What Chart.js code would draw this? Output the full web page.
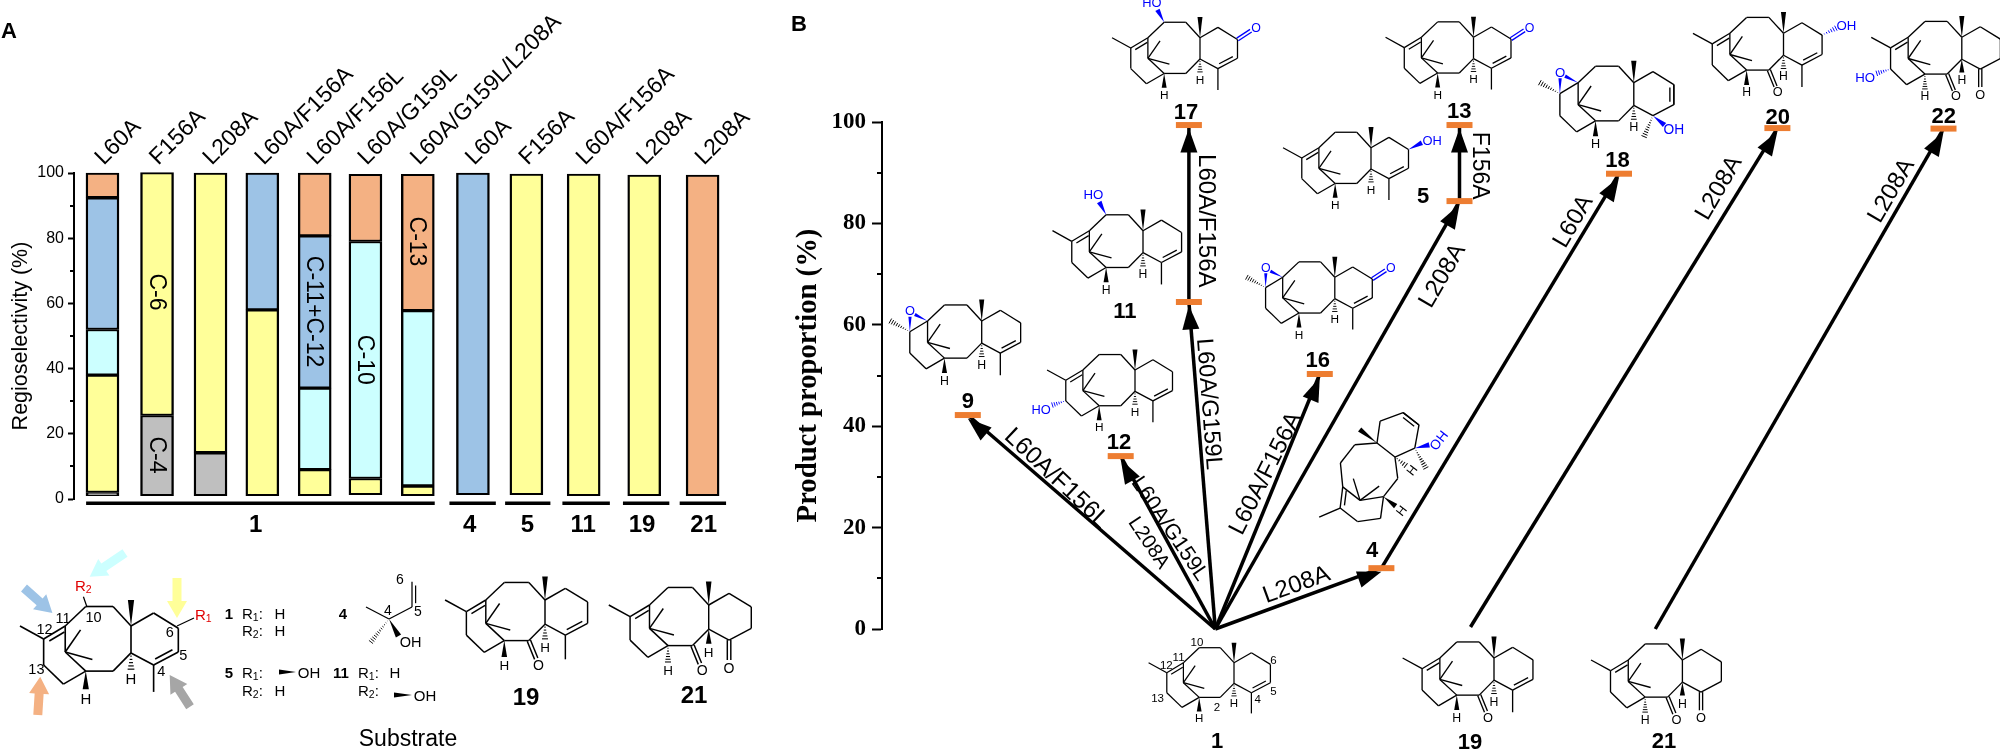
<!DOCTYPE html>
<html>
<head>
<meta charset="utf-8">
<title>Regioselectivity and product proportion</title>
<script src="https://cdn.jsdelivr.net/npm/chart.js@4"></script>
<style>
    html, body { margin: 0; padding: 0; background: #fff; }
    #page { position: relative; width: 2000px; height: 750px; overflow: hidden; }
    canvas, svg { position: absolute; top: 0; }
    #chartA { left: 0; }
    #chartB { left: 780px; }
    #art { left: 0; }
</style>
</head>
<body>
<div id="page">
    <canvas id="chartA" width="760" height="750"></canvas>
    <canvas id="chartB" width="1220" height="750"></canvas>
    <svg id="art" width="2000" height="750" viewBox="0 0 2000 750"></svg>
</div>
<script>
// panel A
const mutants = ['L60A', 'F156A', 'L208A', 'L60A/F156A', 'L60A/F156L', 'L60A/G159L', 'L60A/G159L/L208A', 'L60A', 'F156A', 'L60A/F156A', 'L208A', 'L208A'];
const barSlots = [1, 2, 2.98, 3.93, 4.89, 5.82, 6.78, 7.79, 8.77, 9.82, 10.93, 12];
const barFloor = [1, 1, 1, 1, 1, 1.3, 1, 1.3, 1.3, 1, 1, 1];
const siteC4 = [1, 24.6, 13.2, null, null, null, null, null, null, null, null, null];
const siteC6 = [36, 74.5, 85.8, 57, 8, 5, 3, null, 98.4, 98.7, 98.4, null];
const siteC10 = [14, null, null, null, 25, 72.7, 53.8, null, null, null, null, null];
const siteC11C12 = [40.4, null, null, 42, 46.7, null, null, 98.7, null, null, null, null];
const siteC13 = [7.6, null, null, null, 19.3, 20.6, 41.8, null, null, null, null, 98.4];
const percentTicks = [0, 20, 40, 60, 80, 100];
const percentMinorTicks = [10, 30, 50, 70, 90];
const substrates = ['1', '4', '5', '11', '19', '21'];
const substrateFrom = [0.7, 7.36, 8.38, 9.43, 10.54, 11.58];
const substrateTo = [7.09, 8.21, 9.21, 10.3, 11.39, 12.43];
const substrateMid = [3.81, 7.73, 8.79, 9.81, 10.89, 12.02];
const siteNames = ['C-6', 'C-4', 'C-11+C-12', 'C-10', 'C-13'];
const siteNameBar = [1, 1, 4, 5, 6];
const siteNameLevel = [63.5, 13.5, 57.5, 42.7, 79];

// panel B
const productNames = ['9', '12', '4', '11', '17', '16', '5', '13', '18', '20', '22'];
const productX = [7.8, 21.7, 45.4, 27.9, 27.9, 39.8, 52.5, 52.5, 67, 81.4, 96.5];
const proportion = [42.2, 34.1, 12, 64.5, 99.4, 50.3, 84.4, 99.4, 89.8, 98.8, 98.7];
const startNames = ['1', '19', '21'];
const startX = [30.3, 53.5, 70.3];
const startProportion = [0, 0.4, 0];
const arrowFrom = ['1', '1', '1', '1', '11', '1', '1', '5', '4', '19', '21'];
const arrowTo = ['9', '12', '4', '11', '17', '16', '5', '13', '18', '20', '22'];
const proportionTicks = [0, 20, 40, 60, 80, 100];
const proportionMinorTicks = [10, 30, 50, 70, 90];

const sans = "'Liberation Sans', Arial, sans-serif";
const serif = "'Liberation Serif', 'Times New Roman', serif";

function minorTickPlugin(values, len) {
    return {
        id: 'minorTicks',
        afterDraw(chart) {
            const y = chart.scales.y, c = chart.ctx;
            c.save();
            c.strokeStyle = '#000';
            c.lineWidth = 2;
            values.forEach(v => {
                const p = Math.round(y.getPixelForValue(v));
                c.beginPath();
                c.moveTo(y.right, p);
                c.lineTo(y.right - len, p);
                c.stroke();
            });
            c.restore();
        }
    };
}

const substratePlugin = {
    id: 'substrates',
    afterDraw(chart) {
        const x = chart.scales.x, y = chart.scales.y, c = chart.ctx;
        c.save();
        c.strokeStyle = '#000';
        c.lineWidth = 3.5;
        c.fillStyle = '#000';
        c.textAlign = 'center';
        c.textBaseline = 'middle';
        substrates.forEach((name, i) => {
            c.beginPath();
            c.moveTo(x.getPixelForValue(substrateFrom[i]), y.getPixelForValue(-1.3));
            c.lineTo(x.getPixelForValue(substrateTo[i]), y.getPixelForValue(-1.3));
            c.stroke();
            c.font = 'bold 24px ' + sans;
            c.fillText(name, x.getPixelForValue(substrateMid[i]), y.getPixelForValue(-8));
        });
        // site names run down inside the bars
        c.font = '23px ' + sans;
        siteNames.forEach((name, i) => {
            c.save();
            c.translate(x.getPixelForValue(barSlots[siteNameBar[i]]), y.getPixelForValue(siteNameLevel[i]));
            c.rotate(Math.PI / 2);
            c.fillText(name, 0, 1);
            c.restore();
        });
        c.restore();
    }
};

function segment(label, data, color) {
    return {
        label, data,
        backgroundColor: color,
        borderColor: '#000',
        borderWidth: { top: 2, bottom: 2, left: 2.4, right: 2.4 },
        borderSkipped: false,
        clip: false
    };
}

new Chart(document.getElementById('chartA'), {
    type: 'bar',
    data: {
        labels: barSlots,
        datasets: [
            { label: 'floor', data: barFloor, backgroundColor: 'rgba(0,0,0,0)', borderWidth: 0 },
            segment('C-4', siteC4, '#BFBFBF'),
            segment('C-6', siteC6, '#FFFF99'),
            segment('C-10', siteC10, '#CCFFFF'),
            segment('C-11+C-12', siteC11C12, '#9DC3E6'),
            segment('C-13', siteC13, '#F4B183')
        ]
    },
    options: {
        responsive: false,
        animation: false,
        barThickness: 33,
        layout: { autoPadding: false, padding: { bottom: 251 } },
        plugins: { legend: { display: false }, tooltip: { enabled: false } },
        scales: {
            x: {
                type: 'linear',
                position: 'top',
                stacked: true,
                offset: false,
                min: 0.478,
                max: 12.906,
                grid: { display: false, offset: false },
                border: { display: false },
                // the rotated names start a little right of each bar centre
                afterBuildTicks: s => { s.ticks = barSlots.map(v => ({ value: v + 0.3 })); },
                afterFit: s => { s.height = 173; },
                ticks: {
                    autoSkip: false,
                    minRotation: 45,
                    maxRotation: 45,
                    padding: -6,
                    color: '#000',
                    font: { family: sans, size: 23 },
                    callback: (v, i) => mutants[i]
                }
            },
            y: {
                stacked: true,
                min: 0,
                max: 100,
                afterBuildTicks: s => { s.ticks = percentTicks.map(value => ({ value })); },
                afterFit: s => { s.width = 74; },
                border: { color: '#000', width: 2 },
                grid: { drawOnChartArea: false, color: '#000', tickLength: 6, tickWidth: 2 },
                ticks: { padding: 4, color: '#000', font: { family: sans, size: 16 } },
                title: {
                    display: true,
                    text: 'Regioselectivity (%)',
                    color: '#000',
                    font: { family: sans, size: 21.5 },
                    padding: { top: 8, bottom: 0 }
                }
            }
        }
    },
    plugins: [minorTickPlugin(percentMinorTicks, 4), substratePlugin]
});

function pointFor(name) {
    let i = productNames.indexOf(name);
    if (i >= 0) return { x: productX[i], y: proportion[i] };
    i = startNames.indexOf(name);
    return { x: startX[i], y: startProportion[i] };
}

const arrowHeadPlugin = {
    id: 'arrowHeads',
    afterDatasetsDraw(chart) {
        const x = chart.scales.x, y = chart.scales.y, c = chart.ctx;
        c.save();
        c.fillStyle = '#000';
        arrowTo.forEach((to, i) => {
            const a = pointFor(arrowFrom[i]), b = pointFor(to);
            const ax = x.getPixelForValue(a.x), ay = y.getPixelForValue(a.y);
            const bx = x.getPixelForValue(b.x), by = y.getPixelForValue(b.y) + 3.5;
            const ang = Math.atan2(by - ay, bx - ax);
            c.save();
            c.translate(bx, by);
            c.rotate(ang);
            c.beginPath();
            c.moveTo(0, 0);
            c.lineTo(-24, -8.5);
            c.lineTo(-24, 8.5);
            c.closePath();
            c.fill();
            c.restore();
        });
        c.restore();
    }
};

const arrowSets = arrowTo.map((to, i) => ({
    type: 'line',
    data: [pointFor(arrowFrom[i]), pointFor(to)],
    borderColor: '#000',
    borderWidth: 3.5,
    pointRadius: 0,
    clip: false,
    order: 2
}));

new Chart(document.getElementById('chartB'), {
    type: 'scatter',
    data: {
        datasets: arrowSets.concat([{
            label: 'products',
            data: productNames.map((n, i) => ({ x: productX[i], y: proportion[i] })),
            pointStyle: 'line',
            pointRadius: 13,
            pointBorderWidth: 6,
            pointBorderColor: '#ED7D31',
            borderColor: '#ED7D31',
            clip: false,
            order: 1
        }])
    },
    options: {
        responsive: false,
        animation: false,
        layout: { autoPadding: false, padding: { top: 122, bottom: 121, right: 18 } },
        plugins: { legend: { display: false }, tooltip: { enabled: false } },
        scales: {
            x: { type: 'linear', display: false, min: 0, max: 100 },
            y: {
                min: 0,
                max: 100,
                afterBuildTicks: s => { s.ticks = proportionTicks.map(value => ({ value })); },
                afterFit: s => { s.width = 102; },
                border: { color: '#000', width: 2 },
                grid: { drawOnChartArea: false, color: '#000', tickLength: 10, tickWidth: 2 },
                ticks: { padding: 6, color: '#000', font: { family: serif, size: 23, weight: 'bold' } },
                title: {
                    display: true,
                    text: 'Product proportion (%)',
                    color: '#000',
                    font: { family: serif, size: 28.7, weight: 'bold' },
                    padding: { top: 11, bottom: 0 }
                }
            }
        }
    },
    plugins: [minorTickPlugin(proportionMinorTicks, 5), arrowHeadPlugin]
});

// structures and annotations
const NS = 'http://www.w3.org/2000/svg';
const art = document.getElementById('art');
const BLUE = '#0000FF';

function el(parent, tag, attrs, text) {
    const e = document.createElementNS(NS, tag);
    for (const k in attrs) e.setAttribute(k, attrs[k]);
    if (text !== undefined) e.textContent = text;
    parent.appendChild(e);
    return e;
}

function label(parent, x, y, str, size, opts = {}) {
    const attrs = {
        x, y,
        'font-family': sans,
        'font-size': size,
        'text-anchor': opts.anchor || 'middle',
        'dominant-baseline': 'central',
        fill: opts.color || '#000'
    };
    if (opts.bold) attrs['font-weight'] = 'bold';
    if (opts.angle !== undefined) attrs.transform = `rotate(${opts.angle} ${x} ${y})`;
    return el(parent, 'text', attrs, str);
}

function line(g, p, q, color = '#000', w = 1.25) {
    el(g, 'line', { x1: p[0], y1: p[1], x2: q[0], y2: q[1], stroke: color, 'stroke-width': w });
}

function wedge(g, p, q, color = '#000', wide = 2.4) {
    const dx = q[0] - p[0], dy = q[1] - p[1], l = Math.hypot(dx, dy);
    const nx = -dy / l * wide, ny = dx / l * wide;
    el(g, 'polygon', { points: `${p[0]},${p[1]} ${q[0] + nx},${q[1] + ny} ${q[0] - nx},${q[1] - ny}`, fill: color });
}

function hash(g, p, q, color = '#000', wide = 2.6) {
    const dx = q[0] - p[0], dy = q[1] - p[1], l = Math.hypot(dx, dy);
    const n = Math.max(4, Math.round(l / 2.4));
    for (let i = 1; i <= n; i++) {
        const t = i / n, w = wide * t;
        const cx = p[0] + dx * t, cy = p[1] + dy * t;
        line(g, [cx - dy / l * w, cy + dx / l * w], [cx + dy / l * w, cy - dx / l * w], color, 0.9);
    }
}

function dbl(g, p, q, toward, color = '#000') {
    line(g, p, q, color);
    const dx = q[0] - p[0], dy = q[1] - p[1], l = Math.hypot(dx, dy);
    let nx = -dy / l, ny = dx / l;
    const mx = (p[0] + q[0]) / 2, my = (p[1] + q[1]) / 2;
    if ((toward[0] - mx) * nx + (toward[1] - my) * ny < 0) { nx = -nx; ny = -ny; }
    const a = [p[0] + dx * 0.15 + nx * 3.6, p[1] + dy * 0.15 + ny * 3.6];
    const b = [q[0] - dx * 0.15 + nx * 3.6, q[1] - dy * 0.15 + ny * 3.6];
    line(g, a, b, color);
}

function carbonyl(g, p, q, color) {
    const dx = q[0] - p[0], dy = q[1] - p[1], l = Math.hypot(dx, dy);
    const nx = -dy / l * 1.5, ny = dx / l * 1.5;
    line(g, [p[0] + nx, p[1] + ny], [q[0] + nx, q[1] + ny], color);
    line(g, [p[0] - nx, p[1] - ny], [q[0] - nx, q[1] - ny], color);
}

// taxane skeleton, atoms relative to the methyl bearing ring carbon
const A = {
    a: [-34.8, -15], b: [-13.8, -15], c: [0, 0], cMe: [0, -20], d: [17.4, -10], e: [36.4, 1.7], f: [36.4, 20],
    g: [17.4, 30], gMe: [17.4, 50.7], h: [0, 20.7], i: [-13.8, 34.7], j: [-34.8, 34.7], k: [-50.6, 20], l: [-50.6, 0],
    m: [-67.2, 10], mMe: [-85.4, 0], n: [-67.2, 30], o: [-52, 44.7], me1: [-38.8, 3], me2: [-29.7, 25.7]
};
const plainBonds = ['a-b', 'b-c', 'c-d', 'd-e', 'e-f', 'g-h', 'h-c', 'h-i', 'i-j', 'j-k', 'k-l', 'l-a', 'm-n', 'n-o', 'o-j', 'k-me1', 'k-me2'];

function mol(x, y, s, o = {}) {
    const g = el(art, 'g', { transform: `translate(${x} ${y}) rotate(${o.rot || 0}) scale(${s})` });
    const at = (n, dx, dy) => [A[n][0] + dx, A[n][1] + dy];
    plainBonds.forEach(b => {
        const [p, q] = b.split('-');
        line(g, A[p], A[q]);
    });
    wedge(g, A.c, A.cMe);
    // C-11/C-12
    if (o.epoxide) {
        line(g, A.l, A.m);
        hash(g, A.m, A.mMe);
        label(g, -67, -9.5, 'O', 12, { color: BLUE });
        wedge(g, A.l, [-62.5, -6], BLUE, 1.6);
        wedge(g, A.m, [-67, -4], BLUE, 1.5);
    } else {
        dbl(g, A.l, A.m, [-50, 18]);
        line(g, A.m, A.mMe);
    }
    // C-4/C-5/C-6
    if (o.ketoneG) {
        line(g, A.f, A.g);
        carbonyl(g, A.g, at('g', 0, 17));
        label(g, A.g[0], A.g[1] + 23.5, 'O', 12);
    } else if (o.tertOH) {
        line(g, A.f, A.g);
        hash(g, A.g, at('g', -8, 19));
        wedge(g, A.g, at('g', 10.5, 8.5), BLUE);
        label(g, A.g[0] + 19, A.g[1] + 13, 'OH', 12.5, { color: BLUE });
    } else {
        dbl(g, A.f, A.g, [18, 10]);
        line(g, A.g, A.gMe);
    }
    if (o.ketoneE) {
        carbonyl(g, A.e, at('e', 13, -8.5), BLUE);
        label(g, A.e[0] + 18, A.e[1] - 11, 'O', 12, { color: BLUE });
    }
    if (o.ene56) {
        // e=f double bond, redrawn on top of the plain one
        dbl(g, A.e, A.f, [18, 10]);
    }
    if (o.ketoneI) {
        carbonyl(g, A.i, at('i', 6.3, 15.5));
        label(g, A.i[0] + 8.2, A.i[1] + 20.5, 'O', 12);
    }
    if (o.wedgeOH6) {
        wedge(g, A.e, at('e', 13, -6.5), BLUE);
        label(g, A.e[0] + 23, A.e[1] - 9, 'OH', 12.5, { color: BLUE });
    }
    if (o.hashOH6) {
        hash(g, A.e, at('e', 13, -6.5), BLUE);
        label(g, A.e[0] + 23, A.e[1] - 9, 'OH', 12.5, { color: BLUE });
    }
    if (o.wedgeOH10) {
        wedge(g, A.a, at('a', -6.5, -12), BLUE);
        label(g, A.a[0] - 12, A.a[1] - 19, 'HO', 12.5, { color: BLUE });
    }
    if (o.hashOH13) {
        hash(g, A.n, at('n', -13, 4), BLUE);
        label(g, A.n[0] - 24, A.n[1] + 8, 'HO', 12.5, { color: BLUE });
    }
    // ring fusion hydrogens
    const jStyle = o.jHash ? hash : wedge;
    const hStyle = o.hWedge ? wedge : hash;
    jStyle(g, A.j, at('j', 0, 14));
    label(g, A.j[0], A.j[1] + 21, 'H', 11.5);
    hStyle(g, A.h, at('h', 0, 12.5));
    label(g, 0, A.h[1] + 20, 'H', 11.5);
    return g;
}

// panel A structures
mol(131, 626, 1.3);
mol(545, 600, 1.17, { ketoneI: true });
mol(708.7, 605, 1.17, { ketoneI: true, ketoneG: true, jHash: true, hWedge: true });
line(art, [177, 626], [194, 618]);
line(art, [87, 607], [83.4, 596.7]);

function blockArrow(x1, y1, x2, y2, color) {
    const g = el(art, 'g', { transform: `translate(${x2} ${y2}) rotate(${Math.atan2(y2 - y1, x2 - x1) * 180 / Math.PI})` });
    const l = Math.hypot(x2 - x1, y2 - y1);
    el(g, 'polygon', { points: `0,0 -17,-10 -17,-4.5 ${-l},-4.5 ${-l},4.5 -17,4.5 -17,10`, fill: color });
}
blockArrow(125, 553, 89.7, 576.7, '#CCFFFF');
blockArrow(24, 588, 52.4, 613, '#9DC3E6');
blockArrow(177, 578, 177, 618, '#FFFF99');
blockArrow(190, 706.7, 169.7, 675, '#A6A6A6');
blockArrow(37.8, 715, 40.2, 676.7, '#F4B183');

[['11', 63, 618], ['10', 93.5, 617], ['12', 44.6, 629], ['13', 36.4, 669], ['4', 161.4, 671], ['5', 183.2, 655], ['6', 169.7, 632]].forEach(t => label(art, t[1], t[2], t[0], 14.5));

function rLabel(x, y, n, color, colon) {
    const t = el(art, 'text', { x, y, 'font-family': sans, 'font-size': 15, fill: color, 'dominant-baseline': 'central' }, 'R');
    el(t, 'tspan', { 'font-size': 10.5, dy: 4 }, n);
    if (colon) el(t, 'tspan', { dy: -4 }, ':');
}
rLabel(195, 614, '1', '#E00000');
rLabel(75, 585, '2', '#E00000');

// substituent table
rLabel(242, 613, '1', '#000', true);
rLabel(242, 630, '2', '#000', true);
rLabel(242, 672, '1', '#000', true);
rLabel(242, 690, '2', '#000', true);
rLabel(358, 672, '1', '#000', true);
rLabel(358, 690, '2', '#000', true);
[['1', 229, 613], ['5', 229, 672], ['11', 341, 672], ['4', 343, 613]].forEach(t => label(art, t[1], t[2], t[0], 15, { bold: true }));
[['H', 280, 613], ['H', 280, 630], ['H', 280, 690], ['H', 395, 672]].forEach(t => label(art, t[1], t[2], t[0], 15));
wedge(art, [296, 672], [279, 672], '#000', 2.6);
label(art, 309, 672, 'OH', 15);
wedge(art, [412, 695], [394, 695], '#000', 2.6);
label(art, 425, 695, 'OH', 15);

// small fragment 4
line(art, [389, 619], [366, 607]);
line(art, [389, 619], [412, 607]);
dbl(art, [412, 607], [412, 581.7], [418, 595]);
hash(art, [389, 619], [371, 642]);
wedge(art, [389, 619], [398.5, 636], '#000', 3);
label(art, 410.6, 642, 'OH', 14.5);
label(art, 400, 579, '6', 14);
label(art, 418, 610.7, '5', 14);
label(art, 388, 610, '4', 14);

label(art, 526, 696, '19', 24, { bold: true });
label(art, 694, 694, '21', 24, { bold: true });
label(art, 408, 738, 'Substrate', 23);
label(art, 9, 30, 'A', 22, { bold: true });
label(art, 799, 23, 'B', 22, { bold: true });

// panel B structures
mol(1234, 662.7, 1);
[['10', 1197, 642.3], ['11', 1178.6, 656.7], ['12', 1166.3, 665], ['13', 1157.6, 698.3], ['2', 1217, 707.3], ['4', 1257.7, 699.3], ['5', 1273.5, 691], ['6', 1273.5, 660]].forEach(t => label(art, t[1], t[2], t[0], 11.5));
mol(981.7, 321, 1.07, { epoxide: true });
mol(1143, 230.7, 1.06, { wedgeOH10: true });
mol(1200, 37.7, 1.03, { wedgeOH10: true, ketoneE: true });
mol(1135, 370, 1.03, { hashOH13: true });
mol(1334.8, 277.3, 1.03, { epoxide: true, ketoneE: true });
mol(1371, 147.7, 1.03, { wedgeOH6: true });
mol(1473.5, 37.3, 1.03, { ketoneE: true });
mol(1633.8, 82.7, 1.1, { epoxide: true, ene56: true, tertOH: true });
mol(1783.5, 33.3, 1.06, { hashOH6: true, ketoneI: true });
mol(1961.8, 37.3, 1.06, { hashOH13: true, ketoneI: true, ketoneG: true, jHash: true, hWedge: true });
mol(1377, 443, 1.1, { rot: -52, ene56: true, tertOH: true });
mol(1494, 658, 1.07, { ketoneI: true });
mol(1682.4, 660, 1.07, { ketoneI: true, ketoneG: true, jHash: true, hWedge: true });

// compound numbers in panel B
[['17', 1186, 111], ['11', 1124.8, 310], ['9', 967.8, 400], ['12', 1119, 441], ['4', 1372, 549], ['16', 1317.8, 359.3], ['5', 1423, 195], ['13', 1459.3, 110],
 ['18', 1617.4, 159.3], ['20', 1777.7, 116], ['22', 1943.8, 115.3], ['1', 1217, 740.7], ['19', 1470, 741.7], ['21', 1664, 740.7]].forEach(t => label(art, t[1], t[2], t[0], 22, { bold: true }));

// arrow captions
[['L60A/F156A', 1207, 220.8, 90, 24], ['L60A/G159L', 1210, 404, 85.7, 23.5], ['L60A/F156L', 1057.6, 477.3, 43.3, 24.5], ['L60A/G159L', 1170.3, 528.3, 56, 21.5],
 ['L208A', 1149.7, 542.3, 56, 20], ['L60A/F156A', 1264.4, 472.7, -63.4, 24], ['L208A', 1441, 275, -60, 24], ['L208A', 1296, 583.3, -20, 24], ['F156A', 1481, 165.7, 90, 23],
 ['L60A', 1572, 220.7, -60, 24], ['L208A', 1717.6, 187.3, -60, 24], ['L208A', 1890, 190, -60, 24]].forEach(t => label(art, t[1], t[2], t[0], t[4], { angle: t[3] }));
</script>
</body>
</html>
